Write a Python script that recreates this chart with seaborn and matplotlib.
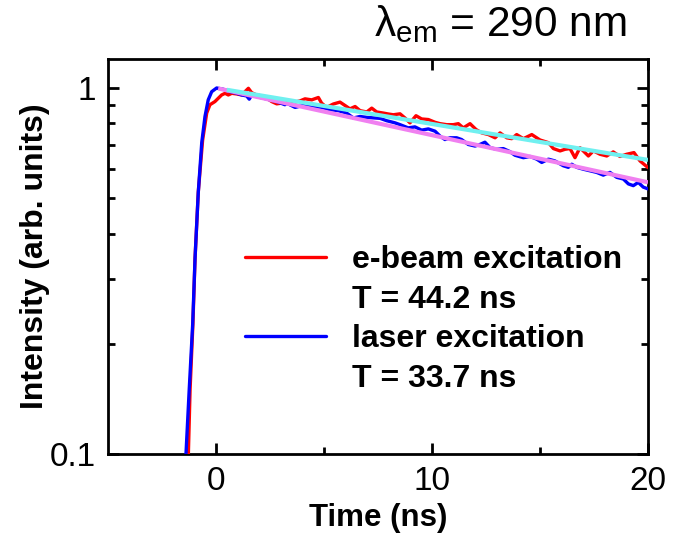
import numpy as np
import pandas as pd
import matplotlib
matplotlib.use("Agg")
import matplotlib.pyplot as plt
from matplotlib.lines import Line2D
from matplotlib.ticker import FixedLocator, NullFormatter, LogLocator
import seaborn as sns

# Time-resolved luminescence at 290 nm
ebeam_t = [-1.30, -1.20, -1.07, -0.97, -0.82, -0.62, -0.43, -0.28, -0.05, 0.11, 0.26, 0.42,
           0.57, 0.73, 0.96, 1.19, 1.34, 1.50, 1.65, 1.88, 2.12, 2.35, 2.58, 2.81, 3.04,
           3.27, 3.43, 3.89, 4.12, 4.43, 4.74, 4.89, 5.12, 5.43, 5.74, 5.97, 6.20, 6.44,
           6.67, 6.98, 7.21, 7.44, 7.75, 7.98, 8.21, 8.52, 8.75, 8.98, 9.26, 9.52, 9.83,
           10.14, 10.37, 10.68, 10.99, 11.22, 11.45, 11.76, 12.04, 12.30, 12.61, 12.92,
           13.15, 13.46, 13.69, 13.92, 14.23, 14.62, 15.00, 15.39, 15.62, 15.93, 16.16,
           16.39, 16.62, 16.85, 17.24, 17.47, 17.78, 18.09, 18.39, 18.70, 19.01, 19.35,
           19.63, 20.00]
ebeam_i = [0.09, 0.15, 0.226, 0.343, 0.52, 0.72, 0.854, 0.90, 0.918, 0.938, 0.957, 0.967,
           0.957, 0.967, 0.963, 0.957, 0.977, 0.998, 0.971, 0.957, 0.951, 0.938, 0.918,
           0.905, 0.909, 0.918, 0.909, 0.922, 0.934, 0.928, 0.942, 0.909, 0.885, 0.904,
           0.915, 0.896, 0.877, 0.890, 0.867, 0.860, 0.881, 0.860, 0.854, 0.849, 0.845,
           0.850, 0.828, 0.803, 0.840, 0.823, 0.820, 0.806, 0.799, 0.794, 0.794, 0.799,
           0.778, 0.799, 0.770, 0.754, 0.746, 0.731, 0.754, 0.731, 0.727, 0.746, 0.727,
           0.746, 0.721, 0.709, 0.683, 0.673, 0.680, 0.683, 0.645, 0.687, 0.652, 0.673,
           0.659, 0.652, 0.669, 0.650, 0.659, 0.666, 0.632, 0.606]

laser_t = [-1.45, -1.39, -1.24, -1.08, -0.97, -0.82, -0.66, -0.51, -0.36, -0.20, 0.03,
           0.11, 0.34, 0.65, 0.96, 1.19, 1.42, 1.54, 1.65, 1.88, 2.19, 2.50, 2.81, 3.19,
           3.27, 3.66, 4.04, 4.43, 4.90, 5.28, 5.66, 6.05, 6.36, 6.67, 6.98, 7.36, 7.60,
           7.90, 8.29, 8.52, 8.90, 9.21, 9.52, 9.83, 10.14, 10.37, 10.60, 10.83, 11.14,
           11.37, 11.68, 11.99, 12.22, 12.45, 12.69, 13.00, 13.30, 13.61, 13.84, 14.23,
           14.54, 14.85, 15.08, 15.39, 15.69, 16.08, 16.31, 16.47, 16.70, 17.00, 17.31,
           17.62, 17.93, 18.24, 18.55, 18.86, 19.09, 19.32, 19.55, 19.78, 20.00]
laser_i = [0.08, 0.10, 0.150, 0.226, 0.343, 0.519, 0.709, 0.836, 0.928, 0.977, 1.0,
           0.998, 0.992, 0.977, 0.967, 0.957, 0.951, 0.932, 0.957, 0.947, 0.938, 0.928,
           0.918, 0.900, 0.909, 0.885, 0.896, 0.890, 0.885, 0.872, 0.867, 0.854, 0.828,
           0.836, 0.831, 0.828, 0.826, 0.814, 0.803, 0.794, 0.778, 0.783, 0.767, 0.773,
           0.762, 0.739, 0.723, 0.731, 0.731, 0.723, 0.701, 0.694, 0.701, 0.711, 0.687,
           0.680, 0.683, 0.670, 0.655, 0.645, 0.650, 0.639, 0.626, 0.639, 0.632, 0.613,
           0.607, 0.619, 0.607, 0.600, 0.594, 0.588, 0.578, 0.588, 0.570, 0.564, 0.547,
           0.541, 0.552, 0.536, 0.530]

# Single-exponential fits, I(t) = exp(-t / T)
tau_ebeam = 44.2
tau_laser = 33.7
fit_ebeam_t = [0.5, 20.0]
fit_laser_t = [0.1, 20.0]

series_labels = ["e-beam excitation", "T = 44.2 ns", "laser excitation", "T = 33.7 ns"]
x_ticks = [0, 10, 20]
y_ticks = [0.1, 1]
y_tick_labels = ["0.1", "1"]

sns.set_theme(style="ticks")
plt.rcParams["font.family"] = ["Liberation Sans", "DejaVu Sans"]
plt.rcParams["mathtext.fontset"] = "custom"
plt.rcParams["mathtext.rm"] = "Liberation Sans"
plt.rcParams["mathtext.it"] = "Liberation Sans"
plt.rcParams["text.color"] = "black"
plt.rcParams["axes.labelcolor"] = "black"
plt.rcParams["xtick.color"] = "black"
plt.rcParams["ytick.color"] = "black"

fig = plt.figure(figsize=(6.83, 5.36), dpi=100)
ax = fig.add_axes([108 / 683, 1 - 454 / 536, 540 / 683, 395 / 536])

df_e = pd.DataFrame({"t": ebeam_t, "I": ebeam_i})
df_l = pd.DataFrame({"t": laser_t, "I": laser_i})
sns.lineplot(data=df_e, x="t", y="I", ax=ax, color="#ff0000", lw=2.4,
             sort=False, estimator=None, zorder=3)
sns.lineplot(data=df_l, x="t", y="I", ax=ax, color="#0000ff", lw=2.4,
             sort=False, estimator=None, zorder=4)

fe = np.array(fit_ebeam_t)
fl = np.array(fit_laser_t)
ax.plot(fl, np.exp(-fl / tau_laser), color="#f080f0", lw=3.0, zorder=5,
        solid_capstyle="butt")
ax.plot(fe, np.exp(-fe / tau_ebeam), color="#70f0f0", lw=3.0, zorder=6,
        solid_capstyle="butt")

ax.set_yscale("log")
ax.set_xlim(-5, 20)
ax.set_ylim(0.1, 1.2)

ax.xaxis.set_major_locator(FixedLocator(x_ticks))
ax.xaxis.set_minor_locator(FixedLocator([5, 15]))
ax.yaxis.set_major_locator(FixedLocator(y_ticks))
ax.set_yticklabels(y_tick_labels)
ax.yaxis.set_minor_locator(LogLocator(base=10, subs=np.arange(2, 10)))
ax.yaxis.set_minor_formatter(NullFormatter())

for s in ax.spines.values():
    s.set_linewidth(2.0)
    s.set_color("black")
ax.tick_params(which="both", direction="in", top=True, right=True, width=2.0,
               colors="black")
ax.tick_params(which="major", length=8, labelsize=24, pad=9)
ax.tick_params(which="minor", length=5)

ax.set_xlabel("Time (ns)", fontsize=22.5, fontweight="bold", labelpad=4)
ax.set_ylabel("Intensity (arb. units)", fontsize=23, fontweight="bold")
ax.yaxis.set_label_coords(-0.107, 0.5)

handles = [Line2D([], [], color="#ff0000", lw=2.4),
           Line2D([], [], color="none"),
           Line2D([], [], color="#0000ff", lw=2.4),
           Line2D([], [], color="none")]
leg = ax.legend(handles, series_labels, loc="upper left",
                bbox_to_anchor=(245 / 683, 1 - 245 / 536), bbox_transform=fig.transFigure,
                frameon=False, borderpad=0, borderaxespad=0, handlelength=2.55,
                handletextpad=0.8, labelspacing=0.3,
                prop={"size": 23, "weight": "bold"})

fig.text(627 / 683, 1 - 36 / 536, "λ$_{\\mathrm{em}}$ = 290 nm", ha="right",
         va="baseline", fontsize=30.5)

fig.savefig("out.png", dpi=100)
